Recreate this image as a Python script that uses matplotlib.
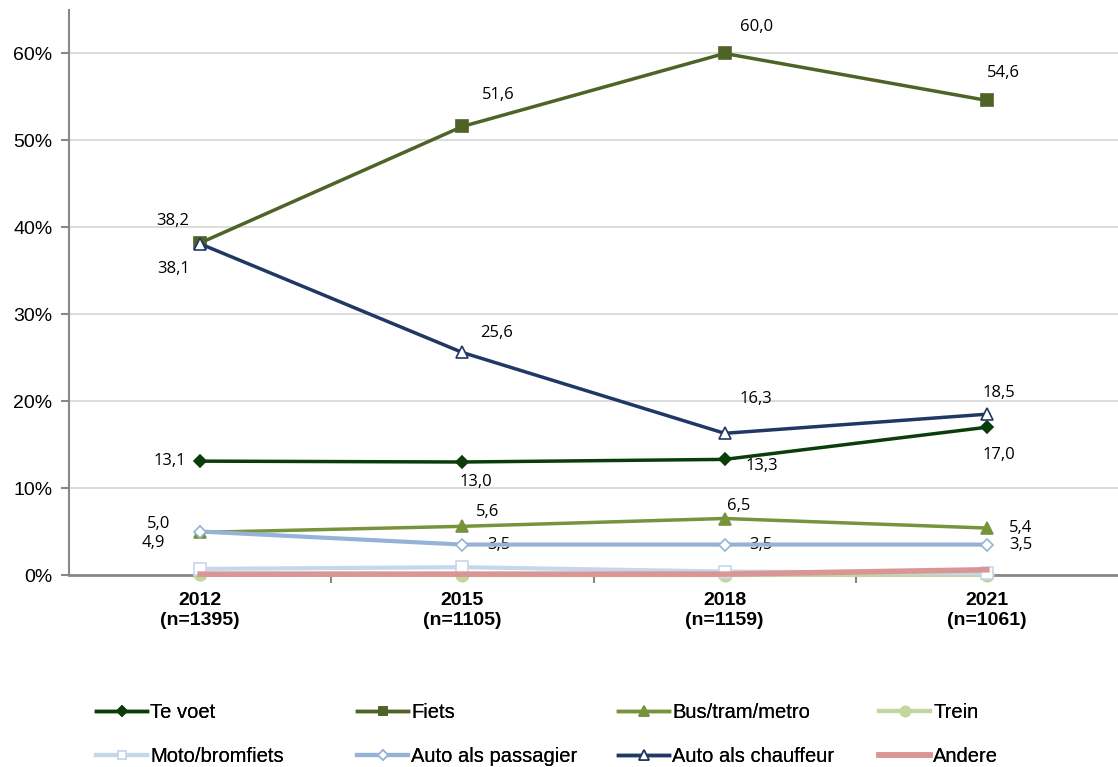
import matplotlib
matplotlib.use("Agg")
import matplotlib.pyplot as plt
import numpy as np

years = ["2012\n(n=1395)", "2015\n(n=1105)", "2018\n(n=1159)", "2021\n(n=1061)"]

te_voet = [13.1, 13.0, 13.3, 17.0]
fiets = [38.2, 51.6, 60.0, 54.6]
bus_tram_metro = [4.9, 5.6, 6.5, 5.4]
trein = [0.1, 0.0, 0.0, 0.0]
moto_bromfiets = [0.7, 0.9, 0.4, 0.2]
auto_passagier = [5.0, 3.5, 3.5, 3.5]
auto_chauffeur = [38.1, 25.6, 16.3, 18.5]
andere = [0.1, 0.1, 0.1, 0.6]

labels = ["Te voet", "Fiets", "Bus/tram/metro", "Trein",
          "Moto/bromfiets", "Auto als passagier", "Auto als chauffeur", "Andere"]
series = [te_voet, fiets, bus_tram_metro, trein,
          moto_bromfiets, auto_passagier, auto_chauffeur, andere]

# colour, marker, marker face, linewidth, marker size
styles = [
    ("#0b3d0b", "D", "#0b3d0b", 2.5, 6),
    ("#4f6228", "s", "#4f6228", 2.5, 8),
    ("#77933c", "^", "#77933c", 2.5, 9),
    ("#c3d69b", "o", "#c3d69b", 3.0, 9),
    ("#c6d7ec", "s", "white", 3.0, 8),
    ("#95b3d7", "D", "white", 3.0, 6.5),
    ("#1f3864", "^", "white", 2.5, 9),
    ("#d99694", None, None, 4.0, 0),
]

# label offsets in pixels for labelled series
label_offsets = {
    0: [(-30, 0), (14, -20), (37, -7), (12, -28)],
    1: [(-27, 22), (36, 31), (32, 26), (17, 27)],
    2: [(-47, -11), (25, 14), (14, 13), (34, 0)],
    5: [(-42, 8), (37, 0), (36, 0), (34, 0)],
    6: [(-27, -25), (34, 19), (31, 34), (12, 21)],
}

fig = plt.figure(figsize=(11.18, 7.67), dpi=100)
ax = fig.add_axes([69 / 1118, 1 - 575 / 767, 1 - 69 / 1118, (575 - 10) / 767])

x = np.arange(len(years))
for i, (vals, lab) in enumerate(zip(series, labels)):
    c, m, mf, lw, ms = styles[i]
    ax.plot(x, vals, color=c, lw=lw, marker=m, markerfacecolor=mf,
            markeredgecolor=c, markersize=ms, markeredgewidth=1.2,
            clip_on=False, zorder=3 + i * 0.1, label=lab)
    if i in label_offsets:
        for xi, v, off in zip(x, vals, label_offsets[i]):
            ax.annotate(f"{v:.1f}".replace(".", ","), (xi, v),
                        xytext=off, textcoords="offset pixels",
                        ha="center", va="center", fontsize=12,
                        family="Open Sans", color="black")

ax.set_xlim(-0.5, 3.5)
ax.set_ylim(0, 65)
ax.set_yticks([0, 10, 20, 30, 40, 50, 60])
ax.set_yticklabels([f"{t}%" for t in range(0, 70, 10)], fontsize=14,
                   family="Liberation Sans")
ax.yaxis.grid(True, color="#d9d9d9", lw=1.3)
ax.set_axisbelow(True)
ax.set_xticks(x)
ax.set_xticklabels(years, fontsize=14, fontweight="bold", family="Liberation Sans",
                   linespacing=1.25)
ax.set_xticks([0.5, 1.5, 2.5], minor=True)
ax.tick_params(axis="x", which="major", length=0, pad=12)
ax.tick_params(axis="x", which="minor", length=6, width=1.5, color="#888888", direction="out")
ax.tick_params(axis="y", length=6, width=1.5, color="#888888", direction="out", pad=6)

for s in ["top", "right"]:
    ax.spines[s].set_visible(False)
ax.spines["left"].set_color("#888888")
ax.spines["bottom"].set_color("#888888")
ax.spines["left"].set_linewidth(1.5)
ax.spines["bottom"].set_linewidth(2)
ax.spines["bottom"].set_zorder(2)

handles, hl = ax.get_legend_handles_labels()
col_x = [96, 357, 618, 879]
for col in range(4):
    idx = [col, col + 4]
    leg = fig.legend([handles[j] for j in idx], [hl[j] for j in idx],
                     loc="upper left",
                     bbox_to_anchor=(col_x[col] / 1118, 1 - 703 / 767),
                     frameon=False, handlelength=2.55,
                     handletextpad=0.15, labelspacing=1.25,
                     prop={"family": "Liberation Sans", "size": 14.5},
                     borderaxespad=0, borderpad=0, markerscale=0.8)
    fig.add_artist(leg)

fig.savefig("out.png", dpi=100)
